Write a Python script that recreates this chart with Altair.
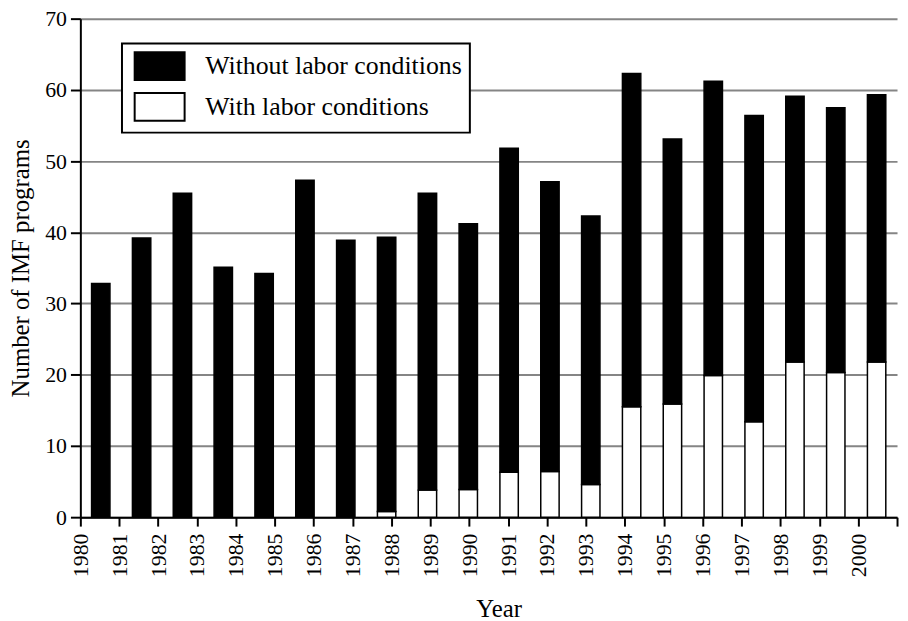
import altair as alt
import pandas as pd

# bar categories (20 bars) and tick labels (21 labels)
bar_years = list(range(1981, 2001))
tick_years = list(range(1980, 2002))

# total programs (top of black bars) and programs with labor conditions (white part)
totals = [32.8, 39.2, 45.5, 35.1, 34.2, 47.3, 38.9, 39.3, 45.5, 41.2,
          51.8, 47.1, 42.3, 62.3, 53.1, 61.2, 56.4, 59.1, 57.5, 59.3]
with_labor = [0, 0, 0, 0, 0, 0, 0, 0.8, 3.8, 3.9,
              6.3, 6.4, 4.6, 15.5, 15.9, 19.9, 13.4, 21.8, 20.3, 21.8]

series_names = ["Without labor conditions", "With labor conditions"]
y_ticks = [0, 10, 20, 30, 40, 50, 60, 70]

rows = []
for yr, t, w in zip(bar_years, totals, with_labor):
    rows.append({"year": str(yr), "cond": series_names[1], "value": w, "ord": 0})
    rows.append({"year": str(yr), "cond": series_names[0], "value": round(t - w, 2), "ord": 1})
df = pd.DataFrame(rows)
ticks_df = pd.DataFrame({"tyear": tick_years})

FONT = "Liberation Serif"

bars = alt.Chart(df).mark_bar(stroke="black", strokeWidth=1.5, opacity=1).encode(
    x=alt.X("year:O", axis=None,
            scale=alt.Scale(paddingInner=0.55, paddingOuter=0.275)),
    y=alt.Y("value:Q", stack="zero",
            scale=alt.Scale(domain=[0, 70], nice=False),
            axis=alt.Axis(values=y_ticks, title="Number of IMF programs",
                          grid=True, gridColor="#858585", gridWidth=2,
                          domainColor="black", domainWidth=2,
                          tickColor="black", tickWidth=2, tickSize=10,
                          labelFont=FONT, labelFontSize=22, labelColor="black",
                          labelPadding=4,
                          titleFont=FONT, titleFontSize=25, titleFontWeight="normal",
                          titleColor="black", titlePadding=11)),
    color=alt.Color("cond:N",
                    scale=alt.Scale(domain=series_names, range=["black", "white"]),
                    legend=alt.Legend(title=None, orient="none", legendX=42, legendY=25,
                                      symbolType="M-1.8,-1H1.8V1H-1.8Z", symbolSize=784,
                                      symbolStrokeColor="black", symbolStrokeWidth=2,
                                      symbolOpacity=1, symbolOffset=15,
                                      labelFont=FONT, labelFontSize=26, labelColor="black",
                                      labelOffset=31, labelLimit=500,
                                      padding=8, rowPadding=5,
                                      strokeColor="black", fillColor="white")),
    order=alt.Order("ord:Q"),
)

axis_layer = alt.Chart(ticks_df).mark_rule(opacity=0).encode(
    x=alt.X("tyear:Q",
            scale=alt.Scale(domain=[1980, 2001], nice=False, zero=False),
            axis=alt.Axis(values=tick_years, format="d",
                          labelExpr="datum.value > 2000 ? '' : datum.label",
                          title="Year", grid=False,
                          domainColor="black", domainWidth=2,
                          tickColor="black", tickWidth=2, tickSize=9,
                          labelAngle=-90, labelFont=FONT, labelFontSize=22,
                          labelColor="black", labelPadding=7,
                          titleFont=FONT, titleFontSize=25, titleFontWeight="normal",
                          titleColor="black", titlePadding=20, titleX=422)),
)

chart = alt.layer(bars, axis_layer).resolve_scale(x="independent").properties(
    width=824, height=503,
    autosize=alt.AutoSizeParams(type="none"),
    padding={"left": 73, "top": 8, "right": 3, "bottom": 102},
).configure_view(stroke=None).configure_legend(strokeWidth=2)

chart.save("out.html", embed_options={"renderer": "svg", "actions": False})
